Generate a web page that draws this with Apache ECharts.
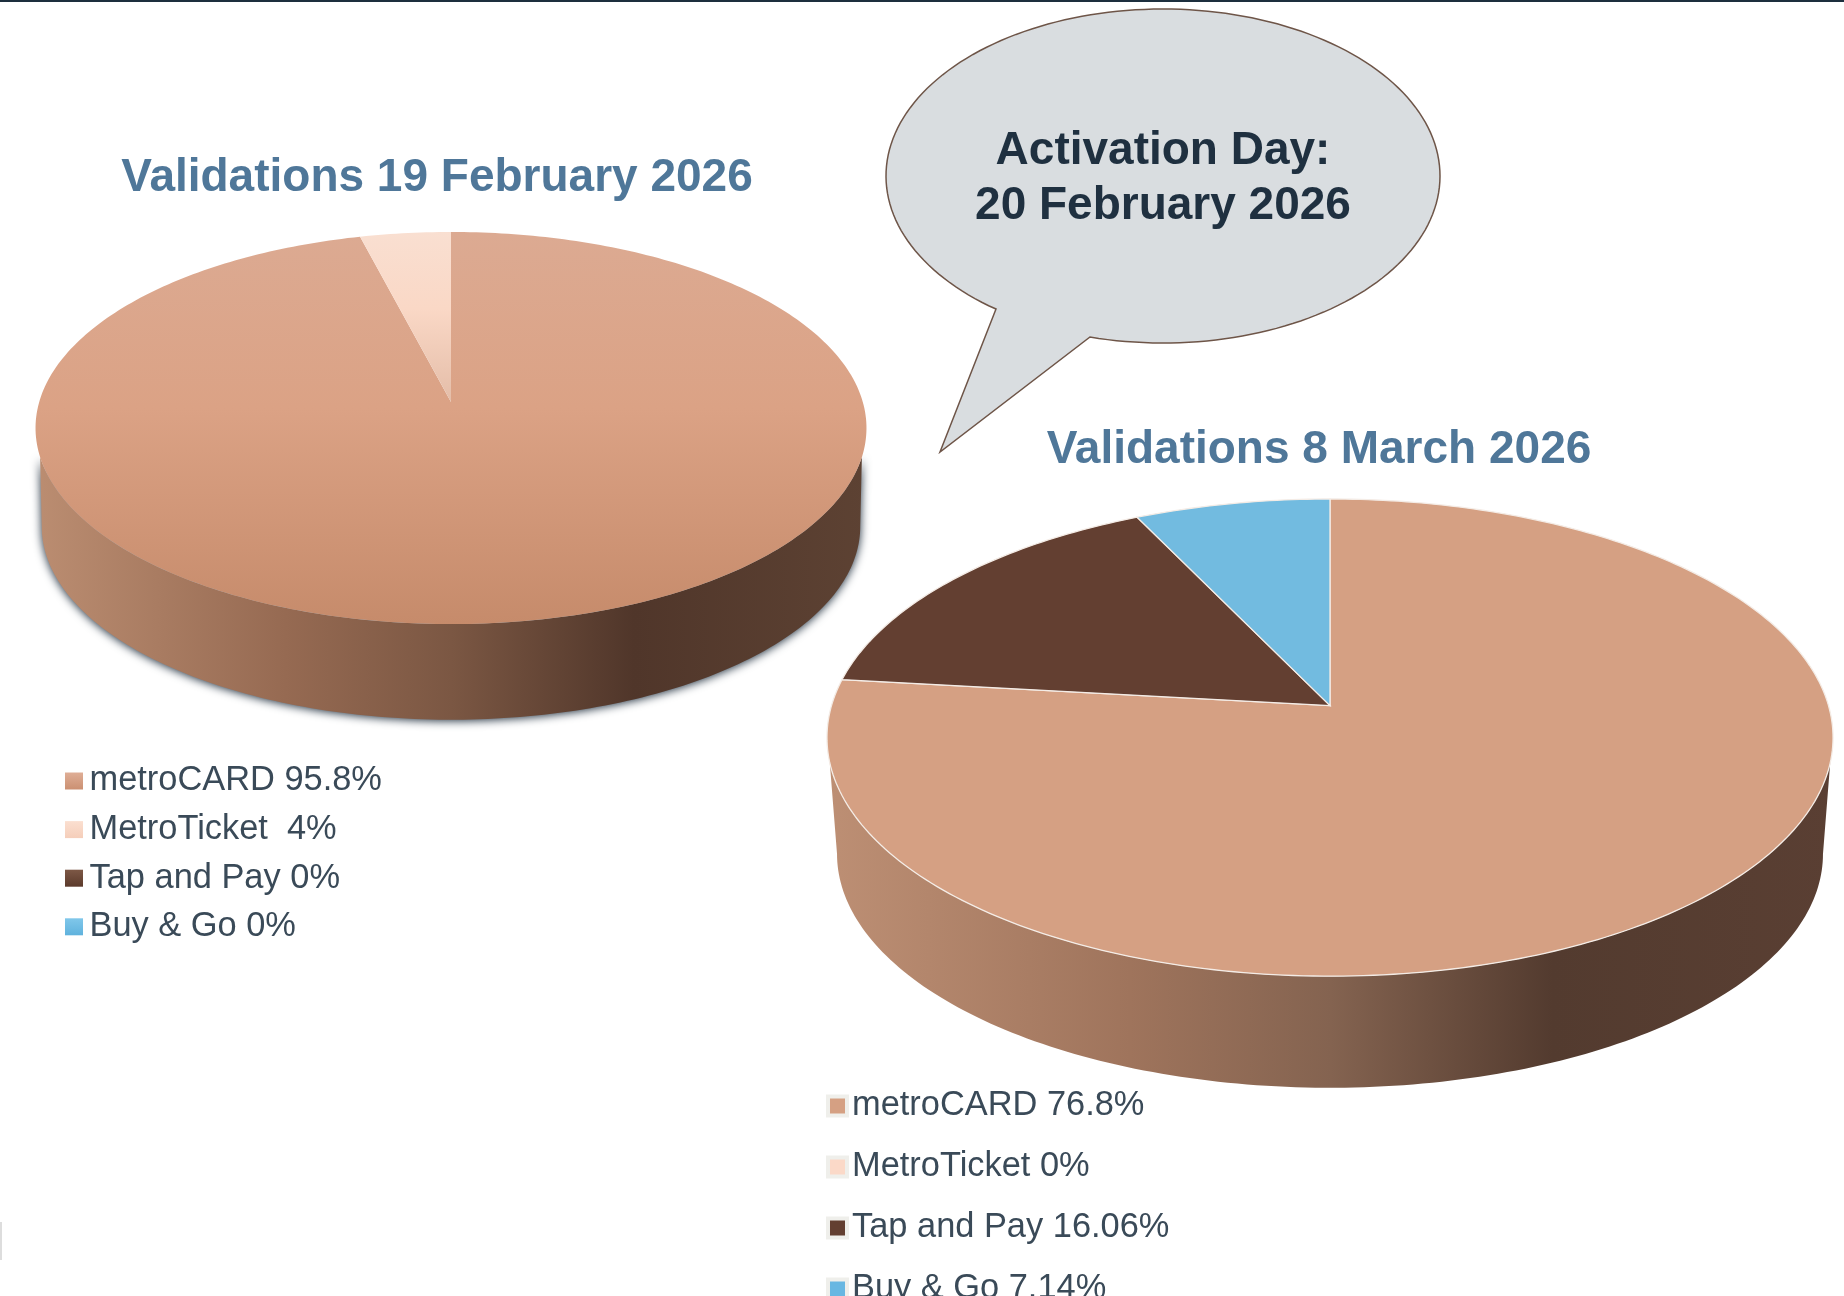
<!DOCTYPE html>
<html>
<head>
<meta charset="utf-8">
<title>Validations</title>
<script src="https://cdn.jsdelivr.net/npm/echarts@6/dist/echarts.min.js"></script>
<style>
html, body { margin: 0; padding: 0; background: #fff; }
#main { width: 1844px; height: 1296px; }
</style>
</head>
<body>
<div id="main"></div>
<script>
var categories = ['metroCARD', 'MetroTicket', 'Tap and Pay', 'Buy & Go'];
var feb19Values = [95.8, 4, 0, 0];
var mar8Values = [76.8, 0, 16.06, 7.14];
var feb19Labels = ['metroCARD 95.8%', 'MetroTicket  4%', 'Tap and Pay 0%', 'Buy & Go 0%'];
var mar8Labels = ['metroCARD 76.8%', 'MetroTicket 0%', 'Tap and Pay 16.06%', 'Buy & Go 7.14%'];
var titles = ['Validations 19 February 2026', 'Validations 8 March 2026'];
var calloutLines = ['Activation Day:', '20 February 2026'];

var LinearGradient = echarts.graphic.LinearGradient;
var FONT = '"Liberation Sans", Arial, sans-serif';

// swatch colours of the legends
var febSwatch = [
    new LinearGradient(0, 0, 0, 1, [{offset: 0, color: '#dfae96'}, {offset: 1, color: '#cb9072'}]),
    new LinearGradient(0, 0, 0, 1, [{offset: 0, color: '#fbdfd0'}, {offset: 1, color: '#f5ceba'}]),
    new LinearGradient(0, 0, 0, 1, [{offset: 0, color: '#7d5846'}, {offset: 1, color: '#5b3a2b'}]),
    new LinearGradient(0, 0, 0, 1, [{offset: 0, color: '#80c7ea'}, {offset: 1, color: '#5fb2dd'}])
];
var marSwatch = ['#d5a083', '#fbd9c8', '#633f31', '#68b7e2'];

// top faces of the first pie have a vertical shade, the second one is flat
var febTop = [
    new LinearGradient(0, 232, 0, 624, [
        {offset: 0, color: '#dcaa92'}, {offset: 0.45, color: '#dba285'}, {offset: 1, color: '#c68b6b'}
    ], true),
    new LinearGradient(0, 232, 0, 402, [
        {offset: 0, color: '#f9dfd1'}, {offset: 0.45, color: '#fad8c6'}, {offset: 1, color: '#e4bda8'}
    ], true),
    '#633f31', '#72bbe0'
];
var marTop = ['#d5a083', '#fbd9c8', '#633f31', '#72bbe0'];

var febWall = new LinearGradient(36, 0, 867, 0, [
    {offset: 0, color: '#bb8d71'}, {offset: 0.3, color: '#966a52'}, {offset: 0.5, color: '#7b5743'},
    {offset: 0.72, color: '#50362a'}, {offset: 1, color: '#5d4233'}
], true);
var marWall = new LinearGradient(828, 0, 1834, 0, [
    {offset: 0, color: '#bd8f74'}, {offset: 0.3, color: '#9f745c'}, {offset: 0.5, color: '#846350'},
    {offset: 0.72, color: '#533b2f'}, {offset: 1, color: '#5a3f33'}
], true);

var febPie = {cx: 451, cy: 402, a: 411.8, b: 192.6, k: 0.1327, depth: 99, shrink: 0.985, wallStart: 106,
    values: feb19Values, top: febTop, wall: febWall, stroke: null,
    wallShadow: {shadowBlur: 10, shadowColor: 'rgba(30,45,60,1)', shadowOffsetY: 1}};
var marPie = {cx: 1330, cy: 705.6, a: 498.5, b: 234.3, k: 0.134, depth: 117, shrink: 0.98, wallStart: 103.7,
    values: mar8Values, top: marTop, wall: marWall, stroke: '#f4ece6', wallShadow: {}};

// perspective projection of a point on the pie rim, angle in degrees clockwise from the back
function rimPoint(pie, deg, drop, scale) {
    var t = deg * Math.PI / 180;
    var w = 1 + pie.k * Math.cos(t);
    return [
        pie.cx + scale * pie.a * Math.sin(t) / w,
        pie.cy - scale * pie.b * Math.cos(t) / w + drop
    ];
}

function arcPoints(pie, from, to, drop, scale) {
    var pts = [];
    var n = Math.max(2, Math.ceil(Math.abs(to - from)));
    for (var i = 0; i <= n; i++) {
        pts.push(rimPoint(pie, from + (to - from) * i / n, drop, scale));
    }
    return pts;
}

function pieSeries(pie, labels, swatches) {
    var total = pie.values.reduce(function (s, v) { return s + v; }, 0);
    var sum = 0;
    return pie.values.map(function (value, index) {
        var start = sum / total * 360;
        sum += value;
        var end = sum / total * 360;
        return {
            type: 'custom',
            name: labels[index],
            coordinateSystem: 'none',
            silent: true,
            itemStyle: {color: swatches[index]},
            data: [[value, start, end]],
            renderItem: function (params, api) {
                if (api.value(0) <= 0) {
                    return null;
                }
                var from = api.value(1);
                var to = api.value(2);
                var children = [];
                // only the front part of the side wall can be seen
                var wallFrom = Math.max(from, pie.wallStart);
                var wallTo = Math.min(to, 360 - pie.wallStart);
                if (wallTo > wallFrom) {
                    // the lower rim is widest where cos = -k
                    var widest = Math.acos(-pie.k) * 180 / Math.PI;
                    var lower = arcPoints(pie, 360 - widest, widest, pie.depth, pie.shrink);
                    children.push({
                        type: 'polygon',
                        shape: {points: arcPoints(pie, wallFrom, wallTo, 0, 1).concat(lower)},
                        style: Object.assign({fill: pie.wall}, pie.wallShadow)
                    });
                }
                var topPts = [[pie.cx, pie.cy]].concat(arcPoints(pie, from, to, 0, 1));
                children.push({
                    type: 'polygon',
                    shape: {points: topPts},
                    style: {
                        fill: pie.top[index],
                        stroke: pie.stroke,
                        lineWidth: pie.stroke ? 1.3 : 0
                    }
                });
                return {type: 'group', children: children};
            }
        };
    });
}

// speech bubble outline: ellipse arc closed through the tail
function bubblePoints(cx, cy, rx, ry, tail) {
    var pts = tail.slice();
    var last = tail[tail.length - 1];
    var first = tail[0];
    var a0 = Math.atan2((last[1] - cy) / ry, (last[0] - cx) / rx);
    var a1 = Math.atan2((first[1] - cy) / ry, (first[0] - cx) / rx);
    while (a1 > a0) {
        a1 -= Math.PI * 2;
    }
    for (var i = 1; i < 180; i++) {
        var a = a0 + (a1 - a0) * i / 180;
        pts.push([cx + rx * Math.cos(a), cy + ry * Math.sin(a)]);
    }
    return pts;
}

var chart = echarts.init(document.getElementById('main'));
chart.setOption({
    backgroundColor: '#ffffff',
    animation: false,
    tooltip: {show: false},
    title: [
        {text: titles[0], left: 432, top: 150, textAlign: 'center',
            textStyle: {fontFamily: FONT, fontSize: 46, fontWeight: 'bold', color: '#4f7799'}},
        {text: titles[1], left: 1314, top: 422, textAlign: 'center',
            textStyle: {fontFamily: FONT, fontSize: 46, fontWeight: 'bold', color: '#4f7799'}}
    ],
    legend: [
        {
            data: feb19Labels, orient: 'vertical', left: 60, top: 756, height: 300,
            icon: 'rect', itemWidth: 18, itemHeight: 17, itemGap: 8.6, selectedMode: false,
            textStyle: {fontFamily: FONT, fontSize: 34.4, color: '#3a4a58', lineHeight: 40, padding: [0, 0, 0, 1.5]}
        },
        {
            data: mar8Labels, orient: 'vertical', left: 821, top: 1081, height: 400,
            icon: 'rect', itemWidth: 19, itemHeight: 19, itemGap: 21, selectedMode: false,
            itemStyle: {borderColor: '#efefeb', borderWidth: 4},
            textStyle: {fontFamily: FONT, fontSize: 34.4, color: '#3a4a58', lineHeight: 40}
        }
    ],
    graphic: [
        {type: 'rect', shape: {x: 0, y: 0, width: 1844, height: 2}, style: {fill: '#1d2f3e'}},
        {type: 'rect', shape: {x: 0, y: 1222, width: 2, height: 38}, style: {fill: '#dddddd'}},
        {
            type: 'polygon',
            z: 10,
            shape: {points: bubblePoints(1163, 176, 277, 167, [[996, 309], [940, 452], [1090, 337]])},
            style: {fill: '#d9dde0', stroke: '#6e5548', lineWidth: 1.5}
        },
        {type: 'text', z: 11, x: 1163, y: 151.5, style: {text: calloutLines[0], align: 'center', verticalAlign: 'middle',
            font: 'bold 46px ' + FONT, fill: '#1f3040'}},
        {type: 'text', z: 11, x: 1163, y: 206.5, style: {text: calloutLines[1], align: 'center', verticalAlign: 'middle',
            font: 'bold 46px ' + FONT, fill: '#1f3040'}}
    ],
    series: pieSeries(febPie, feb19Labels, febSwatch).concat(pieSeries(marPie, mar8Labels, marSwatch))
});
</script>
</body>
</html>
